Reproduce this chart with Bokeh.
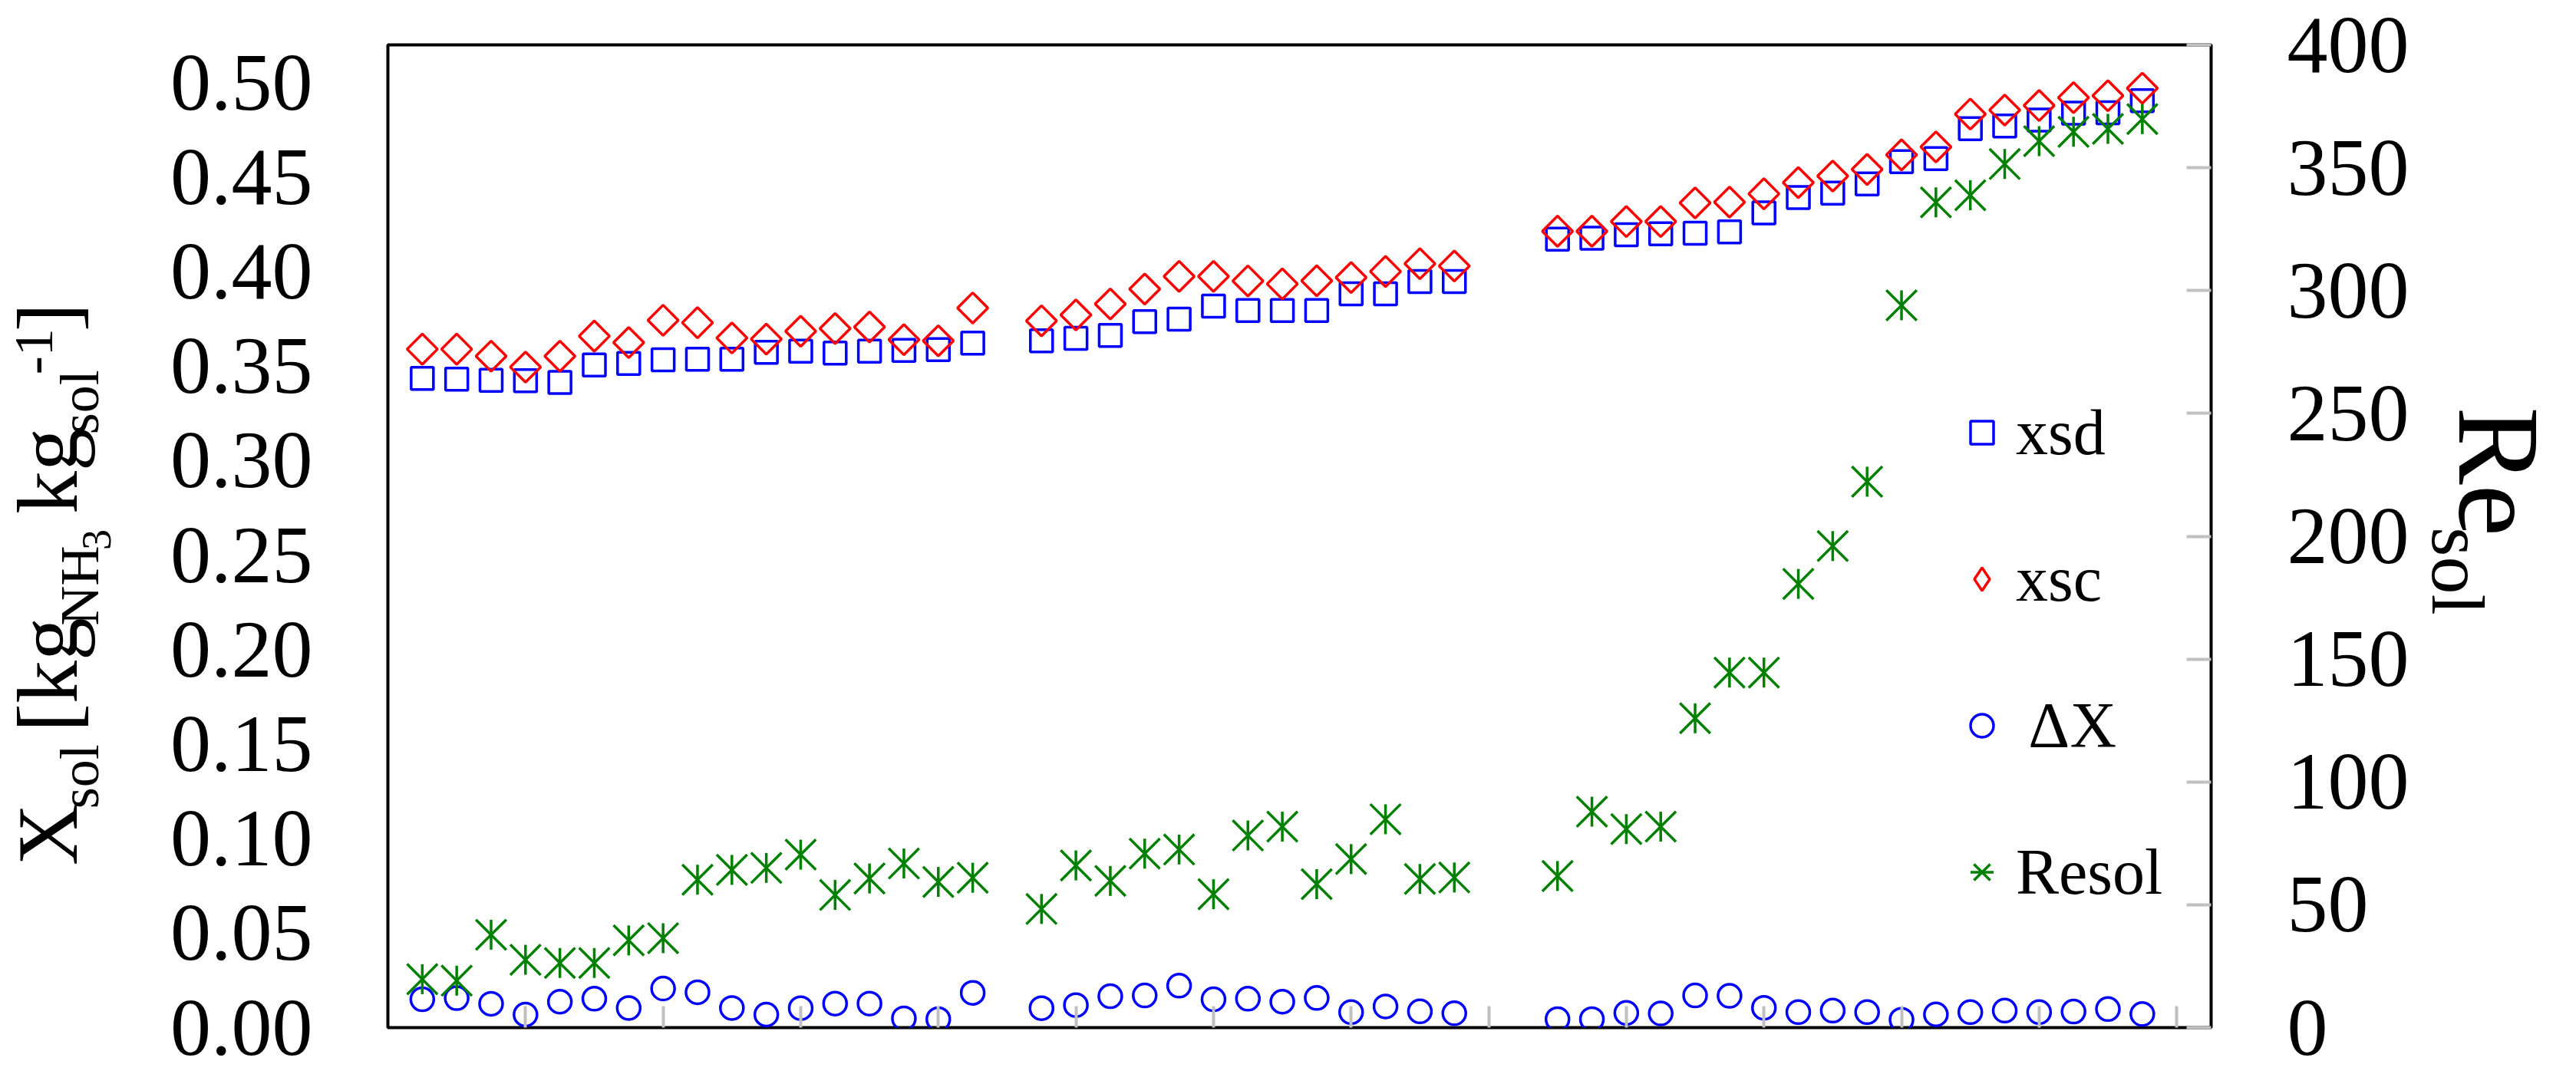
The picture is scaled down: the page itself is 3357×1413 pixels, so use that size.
import math
from bokeh.plotting import figure
from bokeh.layouts import row
from bokeh.models import (Range1d, LinearAxis, FixedTicker, NumeralTickFormatter,
                          Legend, LegendItem, ColumnDataSource)
from bokeh.core.properties import value
from bokeh.embed import file_html
from bokeh.resources import INLINE

# ---------------- data ----------------
sample = list(range(1, 18)) + list(range(19, 32)) + list(range(34, 52))

xsd = [0.3435, 0.3431, 0.3425, 0.3423, 0.3414, 0.3506, 0.3514, 0.3534, 0.3537, 0.3537,
       0.3573, 0.3579, 0.3569, 0.3579, 0.3583, 0.3587, 0.3622,
       0.3634, 0.3647, 0.3663, 0.3736, 0.3749, 0.3818, 0.3794, 0.3794, 0.3794, 0.3883,
       0.3883, 0.3948, 0.3948,
       0.4172, 0.4177, 0.4195, 0.4200, 0.4203, 0.4211, 0.4311, 0.4392, 0.4416, 0.4464,
       0.4582, 0.4598, 0.4757, 0.4771, 0.4802, 0.4839, 0.4841, 0.4905]

xsc = [0.3590, 0.3590, 0.3553, 0.3495, 0.3553, 0.3659, 0.3625, 0.3743, 0.3730, 0.3649,
       0.3643, 0.3685, 0.3699, 0.3707, 0.3640, 0.3634, 0.3808,
       0.3740, 0.3771, 0.3829, 0.3908, 0.3975, 0.3975, 0.3951, 0.3935, 0.3952, 0.3969,
       0.4001, 0.4042, 0.4030,
       0.4214, 0.4214, 0.4265, 0.4265, 0.4364, 0.4368, 0.4412, 0.4471, 0.4506, 0.4541,
       0.4618, 0.4660, 0.4834, 0.4855, 0.4879, 0.4921, 0.4931, 0.4971]

delta_x = [0.0150, 0.0156, 0.0126, 0.0069, 0.0137, 0.0153, 0.0104, 0.0207, 0.0187, 0.0104,
           0.0069, 0.0103, 0.0127, 0.0127, 0.0049, 0.0045, 0.0184,
           0.0103, 0.0119, 0.0166, 0.0170, 0.0222, 0.0150, 0.0153, 0.0137, 0.0157, 0.0082,
           0.0112, 0.0086, 0.0076,
           0.0045, 0.0045, 0.0078, 0.0075, 0.0170, 0.0168, 0.0105, 0.0082, 0.0090, 0.0082,
           0.0042, 0.0070, 0.0082, 0.0090, 0.0082, 0.0085, 0.0098, 0.0072]

resol = [19.7, 19.1, 37.8, 27.6, 26.3, 26.3, 35.5, 36.4, 60.2, 64.2,
         65.0, 70.4, 54.0, 60.7, 66.8, 59.3, 61.0,
         48.3, 66.0, 59.7, 70.8, 72.5, 54.3, 78.2, 81.8, 58.4, 68.6,
         84.8, 60.5, 61.1,
         61.7, 87.9, 80.8, 81.8, 125.9, 144.5, 144.5, 180.6, 196.0, 222.2,
         294.0, 335.9, 338.8, 351.5, 360.8, 364.6, 365.8, 369.8]

left_ticks = [0.00, 0.05, 0.10, 0.15, 0.20, 0.25, 0.30, 0.35, 0.40, 0.45, 0.50]
right_ticks = [0, 50, 100, 150, 200, 250, 300, 350, 400]
x_ticks = [4, 8, 12, 16, 20, 24, 28, 32, 36, 40, 44, 48, 52]
series_labels = ["xsd", "xsc", " \u0394X", "Resol"]

# axis titles as rich-text pieces: (text, role)
left_title = [("X", "main"), ("sol", "sub"), (" [kg", "main"), ("NH", "sub"), ("3", "subsub"),
              (" kg", "main"), ("sol", "sub"), ("-1", "sup"), ("]", "main")]
right_title = [("Re", "main"), ("sol", "sub")]

SERIF = "Liberation Serif"
H = 1397
WL, WM, WR = 190, 2952, 199          # left title strip, main plot, right title strip
PAGE_L = 8
PAGE_M = PAGE_L + WL
PAGE_R = PAGE_M + WM

# ---------------- main figure ----------------
p = figure(width=WM, height=H, output_backend="svg", toolbar_location=None,
           x_range=Range1d(0, 53), y_range=Range1d(0, 0.52))
p.extra_y_ranges = {"re": Range1d(0, 400)}
p.min_border_left = 513 - PAGE_M
p.min_border_right = PAGE_R - 2889
p.min_border_top = 58
p.min_border_bottom = 58
p.background_fill_color = "white"
p.border_fill_color = "white"
p.outline_line_color = "black"
p.outline_line_width = 4
p.xgrid.visible = False
p.ygrid.visible = False

ya = p.yaxis[0]
ya.ticker = FixedTicker(ticks=left_ticks)
ya.formatter = NumeralTickFormatter(format="0.00")
ya.major_label_text_font = SERIF
ya.major_label_text_font_size = "106px"
ya.major_label_text_color = "black"
ya.major_tick_in = 0
ya.major_tick_out = 0
ya.minor_tick_in = 0
ya.minor_tick_out = 0
ya.axis_line_color = None
ya.major_label_standoff = 98

ra = LinearAxis(y_range_name="re", ticker=FixedTicker(ticks=right_ticks))
ra.major_label_text_font = SERIF
ra.major_label_text_font_size = "106px"
ra.major_label_text_color = "black"
ra.major_tick_in = 32
ra.major_tick_out = 0
ra.major_tick_line_color = "#c0c0c0"
ra.major_tick_line_width = 4
ra.minor_tick_in = 0
ra.minor_tick_out = 0
ra.axis_line_color = None
ra.major_label_standoff = 99
p.add_layout(ra, "right")

xa = p.xaxis[0]
xa.ticker = FixedTicker(ticks=x_ticks)
xa.major_label_overrides = {t: "" for t in x_ticks}
xa.major_label_text_font_size = "1px"
xa.major_tick_in = 28
xa.major_tick_out = 0
xa.major_tick_line_color = "#c0c0c0"
xa.major_tick_line_width = 4
xa.minor_tick_in = 0
xa.minor_tick_out = 0
xa.axis_line_color = None

LW = 3.5
r1 = p.scatter(sample, xsd, marker="square", size=29, fill_color=None,
               line_color="#0000ff", line_width=LW)
r2 = p.scatter(sample, xsc, marker="square", angle=math.pi / 4, size=28, fill_color=None,
               line_color="#ff0000", line_width=LW)
r3 = p.scatter(sample, delta_x, marker="circle", size=30, fill_color=None,
               line_color="#0000ff", line_width=LW)
r4a = p.scatter(sample, resol, marker="x", size=56, line_color="#008000",
                line_width=LW, y_range_name="re")
r4b = p.scatter(sample, resol, marker="dash", angle=math.pi / 2, size=39,
                line_color="#008000", line_width=LW, y_range_name="re")
# legend swatch for xsc: legend glyphs are drawn unrotated, so a hidden diamond
# renderer of the same series supplies the key symbol
r2_key = p.scatter(sample, xsc, marker="diamond", size=28, fill_color=None,
                   line_color="#ff0000", line_width=LW, visible=False)

legend = Legend(items=[LegendItem(label=series_labels[0], renderers=[r1]),
                       LegendItem(label=series_labels[1], renderers=[r2_key]),
                       LegendItem(label=series_labels[2], renderers=[r3]),
                       LegendItem(label=series_labels[3], renderers=[r4a, r4b])],
                location=(2040, 107), glyph_width=75, glyph_height=191, spacing=0,
                padding=0, margin=0, label_standoff=7, border_line_color=None,
                background_fill_alpha=0, label_text_font=SERIF,
                label_text_font_size="84px", label_text_color="black",
                inactive_fill_alpha=0)
p.add_layout(legend)

# ---------------- title strips ----------------
ADV = {'X': .722, 's': .389, 'o': .5, 'l': .278, ' ': .25, '[': .333, 'k': .5, 'g': .5,
       'N': .722, 'H': .722, '3': .5, '-': .333, '1': .5, ']': .333, 'R': .667, 'e': .444}
MID = 0.3375   # em distance from baseline to the middle of the text box


def strip(width):
    f = figure(width=width, height=H, output_backend="svg", toolbar_location=None,
               x_range=Range1d(0, width), y_range=Range1d(0, H),
               x_axis_location=None, y_axis_location=None)
    f.min_border = 0
    f.min_border_left = f.min_border_right = f.min_border_top = f.min_border_bottom = 0
    f.outline_line_color = None
    f.xgrid.visible = False
    f.ygrid.visible = False
    f.background_fill_color = "white"
    f.border_fill_color = "white"
    return f


def rich(fig, page_x0, pieces, styles, base_px, start_py, angle, direction):
    """direction: -1 text runs up the page, +1 text runs down the page."""
    up = -1 if angle > 0 else 1          # page-x direction of glyph tops
    xs, ys, txt, sz = [], [], [], []
    pos = start_py
    for t, role in pieces:
        size, off = styles[role]
        lead = len(t) - len(t.lstrip(" "))
        pos += direction * lead * ADV[' '] * size
        t = t.lstrip(" ")
        adv = sum(ADV.get(c, 0.5) for c in t) * size
        cx = base_px + off + up * MID * size
        cy = pos + direction * adv / 2
        xs.append(cx - page_x0)
        ys.append(H + 8 - cy)
        txt.append(t)
        sz.append(f"{size}px")
        pos += direction * adv
    src = ColumnDataSource(dict(x=xs, y=ys, text=txt, size=sz))
    fig.text(x="x", y="y", text="text", text_font_size="size", source=src, angle=angle,
             text_font=value(SERIF), text_color="black", text_align="center",
             text_baseline="middle")


fl = strip(WL)
rich(fl, PAGE_L, left_title,
     {"main": (112, 0), "sub": (72, 29), "subsub": (54, 45), "sup": (72, -31)},
     107, 1171, math.pi / 2, -1)

fr = strip(WR)
rich(fr, PAGE_R, right_title, {"main": (152, 0), "sub": (98, -35)},
     3212, 530, -math.pi / 2, +1)

layout = row(fl, p, fr, spacing=0)
open("out.html", "w").write(file_html(layout, INLINE))
